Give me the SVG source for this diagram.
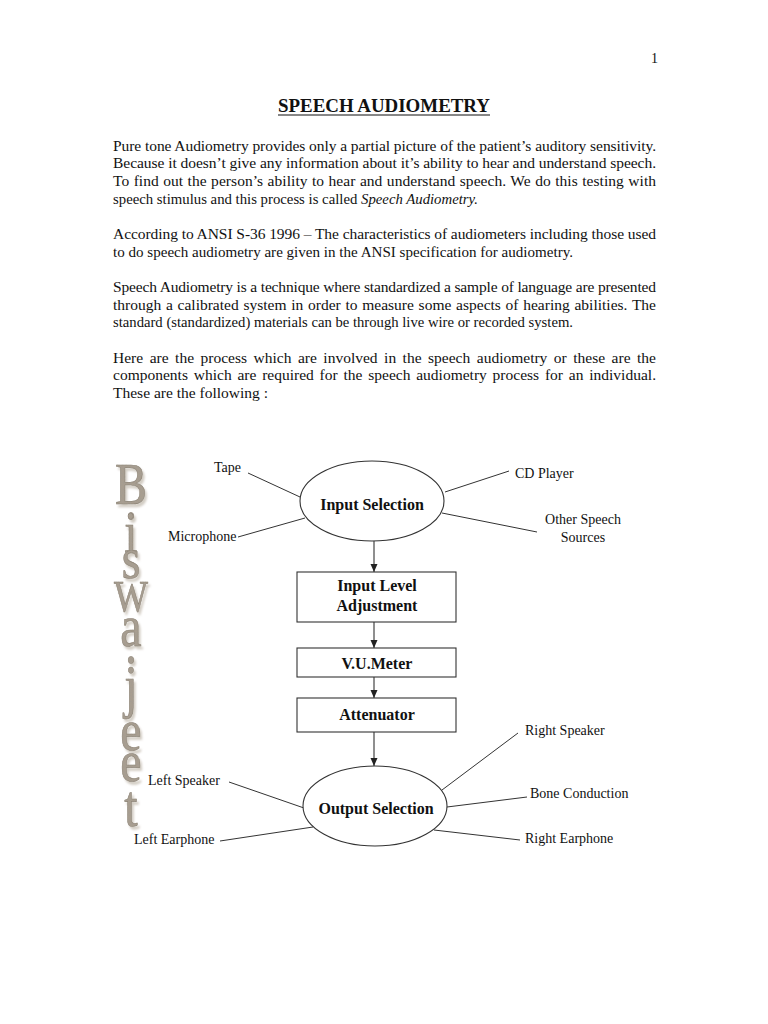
<svg xmlns="http://www.w3.org/2000/svg" width="768" height="1024" viewBox="0 0 768 1024">
<defs>
<style>
.body{font-family:"Liberation Serif","Times New Roman",serif;font-size:15.5px;fill:#111}
.lbl{font-family:"Liberation Serif","Times New Roman",serif;font-size:14px;fill:#111}
.bold{font-family:"Liberation Serif","Times New Roman",serif;font-size:16px;font-weight:bold;fill:#111;text-anchor:middle}
.shape{fill:#fff;stroke:#333;stroke-width:1.1}
.spoke{stroke:#333;stroke-width:1;fill:none}
.arrow{stroke:#333;stroke-width:1.1;fill:none;marker-end:url(#ah)}
.deco{font-family:"Liberation Serif","Times New Roman",serif;font-size:48px;text-anchor:middle;fill:#a89e90;stroke:#877d6e;stroke-width:0.5;filter:url(#tex)}
</style>
<marker id="ah" markerWidth="8" markerHeight="8" refX="8" refY="3.5" orient="auto" markerUnits="userSpaceOnUse">
<path d="M0,0 L8,3.5 L0,7 z" fill="#222"/>
</marker>
<filter id="tex" x="-30%" y="-10%" width="160%" height="120%">
<feOffset in="SourceAlpha" dx="1.5" dy="2" result="off"/>
<feGaussianBlur in="off" stdDeviation="0.8" result="blur"/>
<feFlood flood-color="#d2ccc3" result="fc"/>
<feComposite in="fc" in2="blur" operator="in" result="shadow"/>
<feTurbulence type="fractalNoise" baseFrequency="0.8" numOctaves="2" seed="3" result="noise"/>
<feColorMatrix in="noise" type="matrix" values="0 0 0 0 0.36 0 0 0 0 0.33 0 0 0 0 0.29 0 0 0 1.6 -0.6" result="dark"/>
<feComposite in="dark" in2="SourceGraphic" operator="in" result="darkIn"/>
<feMerge><feMergeNode in="shadow"/><feMergeNode in="SourceGraphic"/><feMergeNode in="darkIn"/></feMerge>
</filter>
</defs>
<rect width="768" height="1024" fill="#fff"/>

<text class="lbl" x="651" y="63">1</text>

<g id="title">
<text x="384" y="112" text-anchor="middle" font-family="Liberation Serif, Times New Roman, serif" font-size="18" font-weight="bold" fill="#111" textLength="212" lengthAdjust="spacingAndGlyphs">SPEECH AUDIOMETRY</text>
<line x1="278" y1="115" x2="490" y2="115" stroke="#111" stroke-width="1.2"/>
</g>

<g id="bodytext">
<text class="body" x="113" y="150.5" textLength="543" lengthAdjust="spacing">Pure tone Audiometry provides only a partial picture of the patient’s auditory sensitivity.</text>
<text class="body" x="113" y="168.2" textLength="543" lengthAdjust="spacing">Because it doesn’t give any information about it’s ability to hear and understand speech.</text>
<text class="body" x="113" y="185.9" textLength="543" lengthAdjust="spacing" word-spacing="0.5">To find out the person’s ability to hear and understand speech. We do this testing with</text>
<text class="body" x="113" y="203.6" textLength="365" lengthAdjust="spacingAndGlyphs">speech stimulus and this process is called <tspan font-style="italic">Speech Audiometry.</tspan></text>
<text class="body" x="113" y="238.9" textLength="543" lengthAdjust="spacing">According to ANSI S-36 1996 – The characteristics of audiometers including those used</text>
<text class="body" x="113" y="256.6" textLength="460" lengthAdjust="spacingAndGlyphs">to do speech audiometry are given in the ANSI specification for audiometry.</text>
<text class="body" x="113" y="291.9" textLength="543" lengthAdjust="spacing">Speech Audiometry is a technique where standardized a sample of language are presented</text>
<text class="body" x="113" y="309.6" textLength="543" lengthAdjust="spacing" word-spacing="0.8">through a calibrated system in order to measure some aspects of hearing abilities. The</text>
<text class="body" x="113" y="327.3" textLength="460" lengthAdjust="spacingAndGlyphs">standard (standardized) materials can be through live wire or recorded system.</text>
<text class="body" x="113" y="362.6" textLength="543" lengthAdjust="spacing" word-spacing="2.6">Here are the process which are involved in the speech audiometry or these are the</text>
<text class="body" x="113" y="380.3" textLength="543" lengthAdjust="spacing" word-spacing="1.9">components which are required for the speech audiometry process for an individual.</text>
<text class="body" x="113" y="398" textLength="155" lengthAdjust="spacingAndGlyphs">These are the following :</text>
</g>

<g id="biswajeet">
<text class="deco" transform="scale(1,1.25)"><tspan x="131" y="403.2">B</tspan><tspan x="131" y="415.2">.</tspan><tspan x="131" y="441.6">i</tspan><tspan x="131" y="462.4">s</tspan><tspan x="131" y="488.8" font-size="36">W</tspan><tspan x="131" y="516.8">a</tspan><tspan x="131" y="530.4">.</tspan><tspan x="131" y="564.8">j</tspan><tspan x="131" y="600">e</tspan><tspan x="131" y="624.8">e</tspan><tspan x="131" y="660.8">t</tspan></text>
</g>

<g id="connectors">
<line class="spoke" x1="248" y1="473" x2="300" y2="497"/>
<line class="spoke" x1="445" y1="492" x2="509" y2="471"/>
<line class="spoke" x1="238" y1="537" x2="305" y2="518"/>
<line class="spoke" x1="442" y1="513" x2="537" y2="532"/>
<line class="spoke" x1="518" y1="733" x2="442" y2="790"/>
<line class="spoke" x1="229" y1="782" x2="304" y2="808"/>
<line class="spoke" x1="447" y1="807" x2="527" y2="797"/>
<line class="spoke" x1="220" y1="841" x2="313" y2="827"/>
<line class="spoke" x1="434" y1="830" x2="520" y2="840"/>
<line class="arrow" x1="374" y1="541" x2="374" y2="572"/>
<line class="arrow" x1="374" y1="622" x2="374" y2="648"/>
<line class="arrow" x1="374" y1="677" x2="374" y2="698"/>
<line class="arrow" x1="374" y1="732" x2="374" y2="766"/>
</g>

<g id="input-selection">
<ellipse class="shape" cx="372" cy="501" rx="72" ry="40"/>
<text class="bold" x="372" y="510">Input Selection</text>
</g>
<g id="input-level">
<rect class="shape" x="297" y="572" width="159" height="50"/>
<text class="bold" x="377" y="591">Input Level</text>
<text class="bold" x="377" y="611">Adjustment</text>
</g>
<g id="vu-meter">
<rect class="shape" x="297" y="648" width="159" height="29"/>
<text class="bold" x="377" y="669">V.U.Meter</text>
</g>
<g id="attenuator">
<rect class="shape" x="297" y="698" width="159" height="34"/>
<text class="bold" x="377" y="720">Attenuator</text>
</g>
<g id="output-selection">
<ellipse class="shape" cx="375" cy="806" rx="72" ry="40"/>
<text class="bold" x="376" y="814">Output Selection</text>
</g>

<g id="lbl-tape"><text class="lbl" x="214" y="472">Tape</text></g>
<g id="lbl-cd"><text class="lbl" x="515" y="478">CD Player</text></g>
<g id="lbl-mic"><text class="lbl" x="168" y="541">Microphone</text></g>
<g id="lbl-other"><text class="lbl" x="583" y="524" text-anchor="middle">Other Speech</text><text class="lbl" x="583" y="542" text-anchor="middle">Sources</text></g>
<g id="lbl-rspk"><text class="lbl" x="525" y="735">Right Speaker</text></g>
<g id="lbl-lspk"><text class="lbl" x="148" y="785">Left Speaker</text></g>
<g id="lbl-bone"><text class="lbl" x="530" y="798">Bone Conduction</text></g>
<g id="lbl-lear"><text class="lbl" x="134" y="844">Left Earphone</text></g>
<g id="lbl-rear"><text class="lbl" x="525" y="843">Right Earphone</text></g>
</svg>
